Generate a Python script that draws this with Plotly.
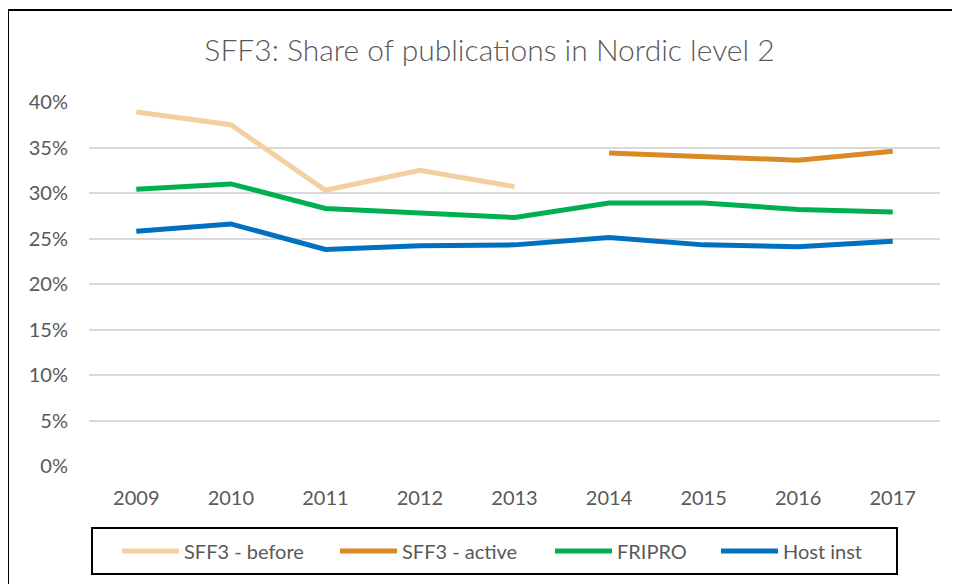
import plotly.graph_objects as go

years = ["2009", "2010", "2011", "2012", "2013", "2014", "2015", "2016", "2017"]
sff3_before = [0.389, 0.375, 0.303, 0.325, 0.307, None, None, None, None]
sff3_active = [None, None, None, None, None, 0.344, 0.340, 0.336, 0.346]
fripro = [0.304, 0.310, 0.283, 0.278, 0.273, 0.289, 0.289, 0.282, 0.279]
host_inst = [0.258, 0.266, 0.238, 0.242, 0.243, 0.251, 0.243, 0.241, 0.247]

series_names = ["SFF3 - before", "SFF3 - active", "FRIPRO", "Host inst"]
series_values = [sff3_before, sff3_active, fripro, host_inst]
series_colors = ["#F4CFA1", "#DA8A24", "#00B050", "#0070C0"]

FONT = "Lato"
GREY = "#595959"
OFF = 8  # page body margin

# page-pixel layout of the reference
PAGE_W, PAGE_H = 960, 584
W, H = PAGE_W - OFF, PAGE_H - OFF
plot_left, plot_right, plot_top, plot_bottom = 89, 940, 102, 466
L = plot_left - OFF
R = PAGE_W - plot_right
T = plot_top - OFF
B = PAGE_H - plot_bottom
pw, ph = plot_right - plot_left, plot_bottom - plot_top

def px(x):
    return (x - plot_left) / pw

def py(y):
    return (plot_bottom - y) / ph

legend_keys = ["legend", "legend2", "legend3", "legend4"]
legend_line_starts = [125, 343, 558, 724]

fig = go.Figure()
for i, (name, vals, col) in enumerate(zip(series_names, series_values, series_colors)):
    fig.add_trace(go.Scatter(x=years, y=vals, name=name, mode="lines",
                             line=dict(color=col, width=5),
                             connectgaps=False, legend=legend_keys[i]))

legend_cfg = {}
for key, xs in zip(legend_keys, legend_line_starts):
    legend_cfg[key] = dict(orientation="h", x=px(xs - 8), xanchor="left",
                           y=py(551), yanchor="middle",
                           bgcolor="rgba(0,0,0,0)", borderwidth=0,
                           font=dict(family=FONT, size=20, color=GREY),
                           itemwidth=57)

fig.update_layout(
    width=W, height=H,
    margin=dict(l=L, r=R, t=T, b=B),
    paper_bgcolor="white", plot_bgcolor="white",
    font=dict(family=FONT, color=GREY, size=20),
    title=dict(text="SFF3: Share of publications in Nordic level 2",
               xref="container", x=(489.5 - OFF) / W, xanchor="center",
               y=1 - (50 - OFF) / H, yanchor="middle",
               font=dict(family=FONT, size=30, color=GREY, weight=300)),
    xaxis=dict(type="category", range=[-0.5, 8.5], showgrid=False,
               zeroline=False, showline=False, ticks="",
               tickfont=dict(size=20, color=GREY), ticklabelstandoff=18),
    yaxis=dict(range=[0, 0.4], dtick=0.05, tickformat=".0%",
               showgrid=True, gridcolor="#D9D9D9", gridwidth=1.5,
               zeroline=False, showline=False, ticks="",
               tickfont=dict(size=20, color=GREY), ticklabelstandoff=20),
    showlegend=True,
    shapes=[
        dict(type="line", xref="paper", yref="paper",
             x0=px(8), x1=px(975), y0=py(10), y1=py(10),
             line=dict(color="black", width=2)),
        dict(type="line", xref="paper", yref="paper",
             x0=px(8), x1=px(8), y0=py(10), y1=py(600),
             line=dict(color="black", width=2)),
        dict(type="rect", xref="paper", yref="paper",
             x0=px(92), x1=px(897), y0=py(528), y1=py(574),
             line=dict(color="black", width=2), fillcolor="rgba(0,0,0,0)"),
    ],
    **legend_cfg,
)

fig.write_html("out.html")
